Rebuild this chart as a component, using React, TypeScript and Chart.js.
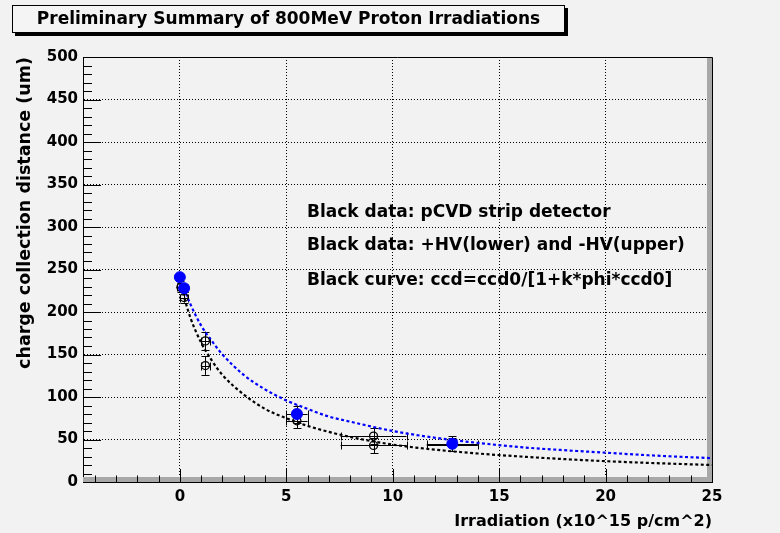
import React, { useEffect, useRef } from "react";
import { Chart, registerables } from "chart.js";

Chart.register(...registerables);

// ---------- text ----------
const titleText = "Preliminary Summary of 800MeV Proton Irradiations";
const xAxisTitle = "Irradiation (x10^15 p/cm^2)";
const yAxisTitle = "charge collection distance (um)";
const annotationLines = [
  "Black data: pCVD strip detector",
  "Black data: +HV(lower) and -HV(upper)",
  "Black curve: ccd=ccd0/[1+k*phi*ccd0]",
];

// ---------- axes ----------
const xMin = -4.55;
const xMax = 25;
const yMin = 0;
const yMax = 500;
const xTickValues = [0, 5, 10, 15, 20, 25];
const yTickValues = [0, 50, 100, 150, 200, 250, 300, 350, 400, 450, 500];

// ---------- blue data (filled) ----------
const blueX = [0, 0.2, 5.5, 12.8];
const blueY = [241, 228, 80, 45];
const blueXErr = [0.1, 0.1, 0.5, 1.2];
const blueYErr = [4, 5, 10, 9];

// ---------- black data (open) ----------
const blackX = [0.05, 0.2, 1.2, 1.2, 5.5, 9.1, 9.1, 12.8];
const blackY = [229, 217, 166, 137, 72, 54, 43, 44];
const blackXErr = [0.2, 0.2, 0.2, 0.2, 0.5, 1.55, 1.55, 1.2];
const blackYErr = [5, 6, 11, 11, 9, 9, 9, 8];

// ---------- fitted curves ----------
const curveX = [0, 0.5, 1, 1.5, 2, 3, 4, 5, 6, 7, 8, 10, 12, 14, 16, 18, 20, 22, 25];
const blueCurveY = [240, 209, 184, 166, 150, 126, 109, 96, 86, 77, 71, 60, 52, 46, 41, 37.5, 34.5, 31.5, 28];
const blackCurveY = [235, 193, 164, 143, 126, 103, 86, 75, 66, 59, 53, 44, 38, 33.5, 30, 27, 24.5, 22.5, 20];

const FONT = "'DejaVu Sans', 'Liberation Sans', sans-serif";
const BG = "#f2f2f2";
const BLUE = "#0000ff";

const crisp = (v: number) => Math.round(v) + 0.5;

const rootPlugin = {
  id: "rootStyle",
  beforeDraw(chart: any) {
    const ctx = chart.ctx;
    ctx.save();
    ctx.fillStyle = BG;
    ctx.fillRect(0, 0, chart.width, chart.height);
    ctx.restore();
  },
  beforeDatasetsDraw(chart: any) {
    const { ctx, chartArea: a, scales } = chart;
    const x = scales.x;
    const y = scales.y;
    ctx.save();
    // 3D frame shading (bottom / right)
    ctx.fillStyle = "#a8a8a8";
    ctx.fillRect(a.left, a.bottom - 5, a.right - a.left, 5);
    ctx.fillRect(a.right - 5, a.top, 5, a.bottom - a.top);
    // frame outline top / right
    ctx.strokeStyle = "#000";
    ctx.lineWidth = 1;
    ctx.beginPath();
    ctx.moveTo(a.left, crisp(a.top));
    ctx.lineTo(crisp(a.right), crisp(a.top));
    ctx.lineTo(crisp(a.right), a.bottom);
    ctx.stroke();

    // ticks on x axis (inward)
    ctx.beginPath();
    for (let v = Math.ceil(xMin); v <= xMax; v++) {
      const px = crisp(x.getPixelForValue(v));
      const len = v % 5 === 0 ? 13 : 6.5;
      ctx.moveTo(px, a.bottom);
      ctx.lineTo(px, a.bottom - len);
    }
    // ticks on y axis (inward)
    for (let v = yMin; v <= yMax; v += 10) {
      const py = crisp(y.getPixelForValue(v));
      const len = v % 50 === 0 ? 18 : 9;
      ctx.moveTo(a.left, py);
      ctx.lineTo(a.left + len, py);
    }
    ctx.stroke();

    // error bars
    const drawErr = (xs: number[], ys: number[], xe: number[], ye: number[]) => {
      ctx.beginPath();
      for (let i = 0; i < xs.length; i++) {
        const px = x.getPixelForValue(xs[i]);
        const py = y.getPixelForValue(ys[i]);
        const x1 = x.getPixelForValue(xs[i] - xe[i]);
        const x2 = x.getPixelForValue(xs[i] + xe[i]);
        const y1 = y.getPixelForValue(ys[i] + ye[i]);
        const y2 = y.getPixelForValue(ys[i] - ye[i]);
        const cx = crisp(px);
        const cy = crisp(py);
        ctx.moveTo(cx, y1);
        ctx.lineTo(cx, y2);
        ctx.moveTo(cx - 4, crisp(y1));
        ctx.lineTo(cx + 4, crisp(y1));
        ctx.moveTo(cx - 4, crisp(y2));
        ctx.lineTo(cx + 4, crisp(y2));
        ctx.moveTo(x1, cy);
        ctx.lineTo(x2, cy);
        ctx.moveTo(crisp(x1), cy - 4);
        ctx.lineTo(crisp(x1), cy + 4);
        ctx.moveTo(crisp(x2), cy - 4);
        ctx.lineTo(crisp(x2), cy + 4);
      }
      ctx.stroke();
    };
    ctx.strokeStyle = "#000";
    ctx.lineWidth = 1;
    drawErr(blackX, blackY, blackXErr, blackYErr);
    drawErr(blueX, blueY, blueXErr, blueYErr);
    ctx.restore();
  },
  afterDatasetsDraw(chart: any) {
    const { ctx, chartArea: a } = chart;
    ctx.save();
    ctx.fillStyle = "#000";
    ctx.font = `bold 17px ${FONT}`;
    ctx.textAlign = "left";
    ctx.textBaseline = "alphabetic";
    const baselines = [160, 193, 228];
    annotationLines.forEach((t, i) => {
      ctx.fillText(t, a.left + 224, a.top + baselines[i]);
    });
    ctx.restore();
  },
  afterDraw(chart: any) {
    const ctx = chart.ctx;
    ctx.save();
    const bx = 12, by = 5, bw = 553, bh = 28;
    ctx.fillStyle = "#000";
    ctx.fillRect(bx + 3, by + bh, bw, 3);
    ctx.fillRect(bx + bw, by + 3, 3, bh);
    ctx.fillStyle = "#f4f4f4";
    ctx.fillRect(bx, by, bw, bh);
    ctx.strokeStyle = "#000";
    ctx.lineWidth = 1;
    ctx.strokeRect(bx + 0.5, by + 0.5, bw - 1, bh - 1);
    ctx.fillStyle = "#000";
    ctx.font = `bold 17px ${FONT}`;
    ctx.textAlign = "center";
    ctx.textBaseline = "middle";
    ctx.fillText(titleText, bx + bw / 2, by + bh / 2 + 1);
    ctx.restore();
  },
};

export default function App() {
  const ref = useRef<HTMLCanvasElement>(null);

  useEffect(() => {
    document.body.style.margin = "0";
    document.body.style.background = BG;
    const canvas = ref.current;
    if (!canvas) return;

    const gridColor = (c: any, edge: number[]) =>
      c.tick && edge.includes(c.tick.value) ? "rgba(0,0,0,0)" : "#000";

    const chart = new Chart(canvas, {
      type: "scatter",
      data: {
        datasets: [
          {
            label: "blue data",
            data: blueX.map((v, i) => ({ x: v, y: blueY[i] })),
            showLine: false,
            pointRadius: 5.5,
            pointHoverRadius: 5.5,
            pointBackgroundColor: BLUE,
            pointBorderColor: BLUE,
            pointBorderWidth: 1,
          },
          {
            label: "black data",
            data: blackX.map((v, i) => ({ x: v, y: blackY[i] })),
            showLine: false,
            pointRadius: 4,
            pointHoverRadius: 4,
            pointBackgroundColor: "rgba(0,0,0,0)",
            pointBorderColor: "#000",
            pointBorderWidth: 1.3,
          },
          {
            label: "blue curve",
            data: curveX.map((v, i) => ({ x: v, y: blueCurveY[i] })),
            showLine: true,
            pointRadius: 0,
            borderColor: BLUE,
            borderWidth: 2.2,
            borderDash: [3, 2.5],
            cubicInterpolationMode: "monotone",
            fill: false,
          },
          {
            label: "black curve",
            data: curveX.map((v, i) => ({ x: v, y: blackCurveY[i] })),
            showLine: true,
            pointRadius: 0,
            borderColor: "#000",
            borderWidth: 2.2,
            borderDash: [3, 2.5],
            cubicInterpolationMode: "monotone",
            fill: false,
          },
        ],
      },
      options: {
        animation: false,
        responsive: false,
        maintainAspectRatio: false,
        events: [],
        layout: { padding: { top: 57, right: 68, left: 0, bottom: 0 } },
        plugins: {
          legend: { display: false },
          tooltip: { enabled: false },
          title: { display: false },
        },
        scales: {
          x: {
            type: "linear",
            min: xMin,
            max: xMax,
            afterBuildTicks: (s: any) => {
              s.ticks = xTickValues.map((v) => ({ value: v }));
            },
            afterFit: (s: any) => {
              s.height = 51;
            },
            ticks: {
              color: "#000",
              font: { family: FONT, size: 15, weight: "bold" },
              padding: 6,
              maxRotation: 0,
              autoSkip: false,
            },
            grid: {
              color: (c: any) => gridColor(c, [25]),
              lineWidth: 1,
              drawTicks: false,
            },
            border: { display: true, color: "#000", width: 1, dash: [1, 2] },
            title: {
              display: true,
              text: xAxisTitle,
              align: "end",
              color: "#000",
              font: { family: FONT, size: 16, weight: "bold" },
              padding: { top: 0, bottom: 2 },
            },
          },
          y: {
            type: "linear",
            min: yMin,
            max: yMax,
            afterBuildTicks: (s: any) => {
              s.ticks = yTickValues.map((v) => ({ value: v }));
            },
            afterFit: (s: any) => {
              s.width = 83;
            },
            ticks: {
              color: "#000",
              font: { family: FONT, size: 15, weight: "bold" },
              padding: 5,
            },
            grid: {
              color: (c: any) => gridColor(c, [0, 500]),
              lineWidth: 1,
              drawTicks: false,
            },
            border: { display: true, color: "#000", width: 1, dash: [1, 2] },
            title: {
              display: true,
              text: yAxisTitle,
              align: "end",
              color: "#000",
              font: { family: FONT, size: 17.5, weight: "bold" },
              padding: { top: 15, bottom: 0 },
            },
          },
        },
      } as any,
      plugins: [rootPlugin],
    });

    return () => chart.destroy();
  }, []);

  return (
    <div style={{ width: 780, height: 533 }}>
      <canvas ref={ref} width={780} height={533} style={{ display: "block", width: 780, height: 533 }} />
    </div>
  );
}
